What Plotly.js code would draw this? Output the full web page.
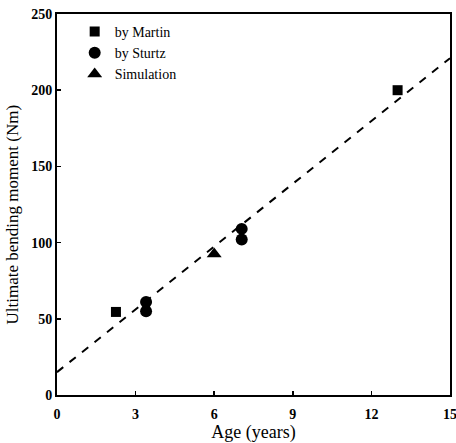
<!DOCTYPE html>
<html><head><meta charset="utf-8">
<script src="https://cdn.plot.ly/plotly-3.0.1.min.js"></script>
<style>html,body{margin:0;padding:0;background:#fff}</style>
</head><body>
<div id="chart" style="width:456px;height:443px"></div>
<script>
const martinAge = [2.25, 13.0];
const martinMoment = [54.5, 200];
const sturtzAge = [3.4, 3.4, 7.05, 7.05];
const sturtzMoment = [61, 55, 109, 102];
const simAge = [6.0];
const simMoment = [92.5];
const fitAge = [0, 15];
const fitMoment = [15, 221];
const xTicks = [0, 3, 6, 9, 12, 15];
const yTicks = [0, 50, 100, 150, 200, 250];

const traces = [
  {x: fitAge, y: fitMoment, mode: 'lines', showlegend: false,
   line: {color: '#000', width: 2, dash: '8px,8px'}},
  {x: martinAge, y: martinMoment, mode: 'markers', name: 'by Martin',
   marker: {symbol: 'square', size: 10, color: '#000'}},
  {x: sturtzAge, y: sturtzMoment, mode: 'markers', name: 'by Sturtz',
   marker: {symbol: 'circle', size: 12, color: '#000'}},
  {x: simAge, y: simMoment, mode: 'markers', name: 'Simulation',
   marker: {symbol: 'triangle-up', size: 13, color: '#000'}}
];

const axisCommon = {
  showgrid: false, zeroline: false, showline: true, linecolor: '#000', linewidth: 2,
  mirror: true, ticks: 'inside', ticklen: 4, tickwidth: 1.5, tickcolor: '#000',
  ticklabeloverflow: 'allow',
  tickfont: {family: 'Liberation Serif', size: 14, color: '#000', weight: 'bold'}
};

const layout = {
  width: 456, height: 443,
  margin: {l: 57, r: 6, t: 14, b: 48},
  paper_bgcolor: '#fff', plot_bgcolor: '#fff',
  font: {family: 'Liberation Serif', color: '#000'},
  xaxis: Object.assign({}, axisCommon, {
    range: [0, 15], tickvals: xTicks, ticktext: xTicks.map(String),
    ticklabelstandoff: 5,
    title: {text: 'Age (years)', font: {family: 'Liberation Serif', size: 18}, standoff: 4}
  }),
  yaxis: Object.assign({}, axisCommon, {
    range: [0, 250], tickvals: yTicks, ticktext: yTicks.map(String)
  }),
  annotations: [{
    text: 'Ultimate bending moment (Nm)', textangle: -90, showarrow: false,
    xref: 'paper', yref: 'paper', x: 0, y: 0.5, xanchor: 'center', yanchor: 'middle',
    xshift: -45, yshift: -10,
    font: {family: 'Liberation Serif', size: 17, color: '#000'}
  }],
  legend: {x: 0.045, y: 0.995, xanchor: 'left', yanchor: 'top', bgcolor: 'rgba(0,0,0,0)',
    font: {family: 'Liberation Serif', size: 14}, tracegroupgap: 0, itemwidth: 30},
  showlegend: true
};

Plotly.newPlot('chart', traces, layout, {displayModeBar: false, staticPlot: true});
</script>
</body></html>
